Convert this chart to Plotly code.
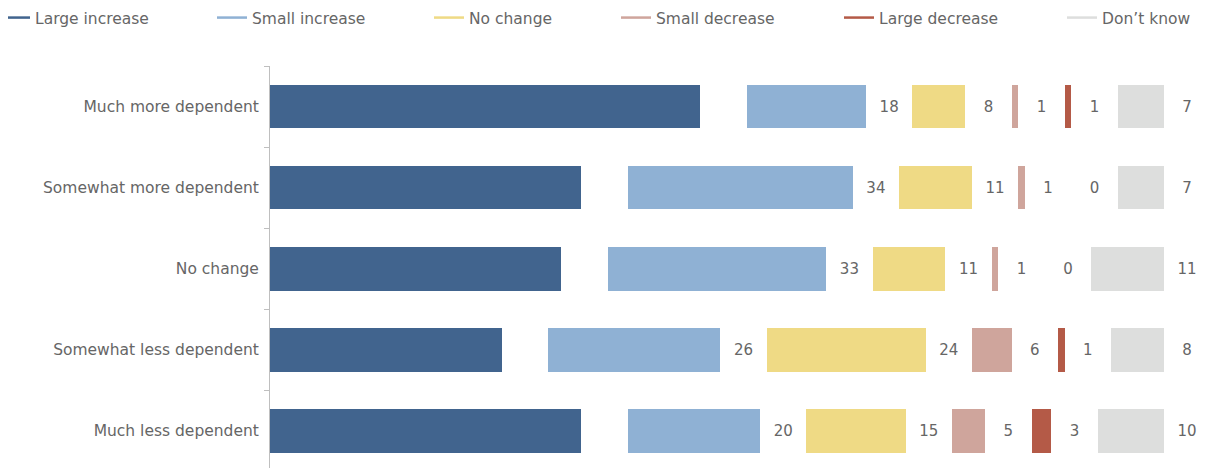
import plotly.graph_objects as go

categories = [
    "Much more dependent",
    "Somewhat more dependent",
    "No change",
    "Somewhat less dependent",
    "Much less dependent",
]
series_names = [
    "Large increase",
    "Small increase",
    "No change",
    "Small decrease",
    "Large decrease",
    "Don\u2019t know",
]
large_increase = [65, 47, 44, 35, 47]
small_increase = [18, 34, 33, 26, 20]
no_change = [8, 11, 11, 24, 15]
small_decrease = [1, 1, 1, 6, 5]
large_decrease = [1, 0, 0, 1, 3]
dont_know = [7, 7, 11, 8, 10]

colors = ["#41648E", "#8FB1D4", "#EFDA85", "#CFA59C", "#B45A47", "#DDDEDD"]
series = [large_increase, small_increase, no_change, small_decrease, large_decrease, dont_know]
GAP = 7  # spacer between segments, holds the value label
FONT = "DejaVu Sans"
GREY = "#666666"
# the page body adds an 8px margin, so the figure is 8px smaller than the window
W, H = 1197, 460
L, T = 262, 58
PW, PH = W - L, H - T

# pixel x (in the window) where each legend entry's text starts
legend_text_x = [35, 252, 469, 656, 879, 1102]

fig = go.Figure()
for i, (name, vals) in enumerate(zip(series_names, series)):
    fig.add_trace(go.Bar(
        y=categories, x=vals, orientation="h", name=name,
        marker=dict(color=colors[i], line=dict(width=0)),
        showlegend=False, hoverinfo="x+name",
    ))
    # the large increase labels are not shown in the original
    labels = ["" if i == 0 else str(v) for v in vals]
    fig.add_trace(go.Bar(
        y=categories, x=[GAP] * len(vals), orientation="h",
        marker=dict(color="rgba(0,0,0,0)", line=dict(width=0)),
        text=labels, textposition="inside", insidetextanchor="middle",
        textangle=0, textfont=dict(family=FONT, size=15, color=GREY),
        showlegend=False, hoverinfo="skip",
    ))
    # legend entry drawn as a short line, one legend per entry
    lg = "legend" if i == 0 else f"legend{i + 1}"
    fig.add_trace(go.Scatter(
        x=[None], y=[None], mode="lines", name=name, legend=lg,
        line=dict(color=colors[i], width=2.5),
    ))
    fig.update_layout({lg: dict(
        xref="paper", yref="paper",
        x=(legend_text_x[i] - 8 - 40 - L) / PW, y=1 + (T - 10) / PH,
        xanchor="left", yanchor="middle",
        font=dict(family=FONT, size=15.5, color=GREY),
        itemwidth=30, bgcolor="rgba(0,0,0,0)",
    )})

fig.update_layout(
    barmode="stack",
    bargap=0.46,
    width=W, height=H,
    margin=dict(l=L, r=0, t=T, b=0, autoexpand=False),
    plot_bgcolor="white", paper_bgcolor="white",
    font=dict(family=FONT, size=15, color=GREY),
    uniformtext=dict(minsize=15, mode="show"),
)
fig.update_xaxes(visible=False, range=[0, 141.2])
fig.update_yaxes(
    range=[4.46, -0.5], showline=True, linecolor="#BFBFBF", linewidth=1,
    ticks="outside", tickson="boundaries", ticklen=5, tickcolor="#BFBFBF",
    showgrid=False, zeroline=False, ticklabelstandoff=7, automargin=False,
    tickfont=dict(family=FONT, size=15.5, color=GREY),
)

fig.write_html("out.html")
